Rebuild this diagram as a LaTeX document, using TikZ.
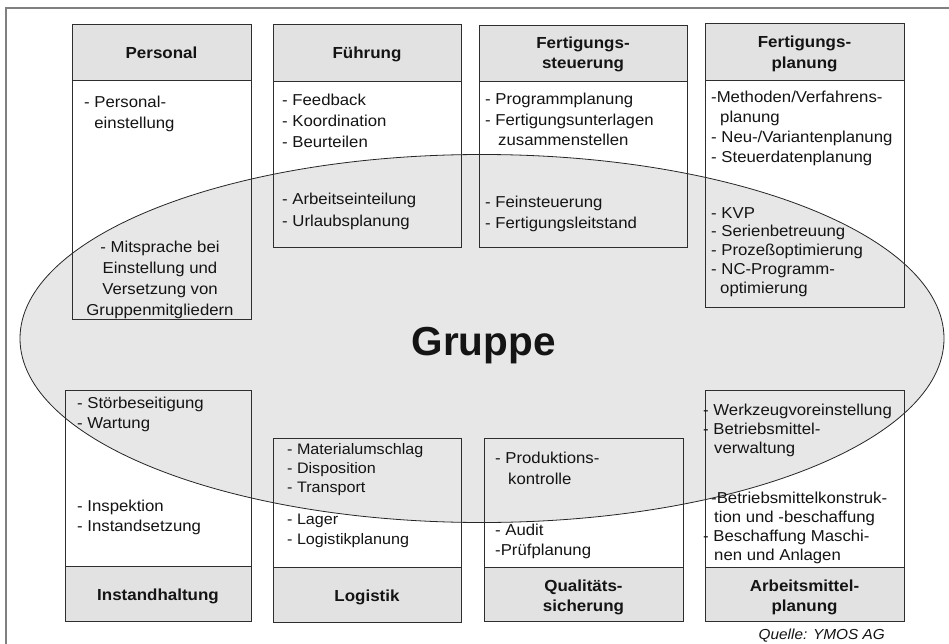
\documentclass[tikz,border=0pt]{standalone}
\usepackage{fontspec}
\setmainfont[FakeStretch=1.06]{Liberation Sans}
\newfontfamily\plainfont{Liberation Sans}
\definecolor{hdrgray}{gray}{0.885}
\definecolor{ellgray}{gray}{0.905}
\definecolor{ink}{gray}{0.08}
\definecolor{frame}{gray}{0.5}
\tikzset{
  boxline/.style={draw=black!82, line width=0.9pt},
  hdrbox/.style={boxline, fill=hdrgray},
  hdrtext/.style={font=\fontsize{16}{20}\selectfont\bfseries, align=center, anchor=base, inner sep=0pt, text=ink},
  bodytext/.style={font=\fontsize{15.8}{21}\selectfont, align=left, anchor=base west, inner sep=0pt, text=ink},
}
\begin{document}
\begin{tikzpicture}[x=1pt,y=-1pt]
\useasboundingbox (0,0) rectangle (949,644);
\fill[white] (0,0) rectangle (949,644);
% outer frame
\draw[frame, line width=1.4pt] (6,644) -- (6,8) -- (949,8);
% ellipse
\draw[fill=ellgray, draw=black!85, line width=0.8pt] (482,338.5) ellipse [x radius=462, y radius=184];
% top row boxes
\draw[hdrbox] (72,24) rectangle (251,80);
\draw[boxline] (72,80) rectangle (251,319);
\draw[hdrbox] (273,24) rectangle (461,81);
\draw[boxline] (273,81) rectangle (461,247);
\draw[hdrbox] (479,25) rectangle (687,81);
\draw[boxline] (479,81) rectangle (687,247);
\draw[hdrbox] (705,23) rectangle (904,80);
\draw[boxline] (705,80) rectangle (904,307);
% bottom row boxes
\draw[boxline] (65,390) rectangle (251,566);
\draw[hdrbox] (65,566) rectangle (251,621);
\draw[boxline] (273,438) rectangle (461,567);
\draw[hdrbox] (273,567) rectangle (461,622);
\draw[boxline] (484,438) rectangle (683,567);
\draw[hdrbox] (484,567) rectangle (683,621);
\draw[boxline] (705,390) rectangle (904,567);
\draw[hdrbox] (705,567) rectangle (904,621);
% headers (anchor base = baseline of last line)
\node[hdrtext] (hpers) at (161.5,59) {Personal};
\node[hdrtext] (hfuehr) at (367,59) {Führung};
\node[hdrtext] (hfst) at (583,69) {Fertigungs-\\steuerung};
\node[hdrtext, font=\fontsize{16}{21}\selectfont\bfseries] (hfpl) at (804.5,69) {Fertigungs-\\planung};
\node[hdrtext] (hinst) at (158,600) {Instandhaltung};
\node[hdrtext] (hlog) at (367,601) {Logistik};
\node[hdrtext] (hqs) at (583.5,611) {Qualitäts-\\sicherung};
\node[hdrtext] (hamp) at (804.5,611) {Arbeitsmittel-\\planung};
% center
\node[font=\plainfont\fontsize{40.5}{44}\selectfont\bfseries, anchor=base, inner sep=0pt, text=ink] (gruppe) at (483.7,355) {Gruppe};
% Personal
\node[bodytext] (persA) at (84,129) {- Personal-\\\phantom{- }einstellung};
\node[bodytext, font=\fontsize{15.8}{20.7}\selectfont, align=center, anchor=base] (persB) at (160,315) {- Mitsprache bei\\Einstellung und\\Versetzung von\\Gruppenmitgliedern};
% Fuehrung
\node[bodytext] (fuehrA) at (282,148) {- Feedback\\- Koordination\\- Beurteilen};
\node[bodytext] (fuehrB) at (282,226) {- Arbeitseinteilung\\- Urlaubsplanung};
% Fertigungssteuerung
\node[bodytext, font=\fontsize{15.8}{20.5}\selectfont] (fstA) at (485,146) {- Programmplanung\\- Fertigungsunterlagen\\\hspace{13pt}zusammenstellen};
\node[bodytext] (fstB) at (485,229) {- Feinsteuerung\\- Fertigungsleitstand};
% Fertigungsplanung
\node[bodytext, font=\fontsize{15.8}{20.3}\selectfont] (fplA) at (711,163) {-Methoden/Verfahrens-\\\hspace{9pt}planung\\- Neu-/Variantenplanung\\- Steuerdatenplanung};
\node[bodytext, font=\fontsize{15.8}{18.75}\selectfont] (fplB) at (711,293) {- KVP\\- Serienbetreuung\\- Prozeßoptimierung\\- NC-Programm-\\\hspace{9pt}optimierung};
% Instandhaltung
\node[bodytext, font=\fontsize{15.8}{20}\selectfont] (instA) at (77,428) {- Störbeseitigung\\- Wartung};
\node[bodytext, font=\fontsize{15.8}{20}\selectfont] (instB) at (77,531) {- Inspektion\\- Instandsetzung};
% Logistik
\node[bodytext, font=\fontsize{15.2}{19}\selectfont] (logA) at (287,492) {- Materialumschlag\\- Disposition\\- Transport};
\node[bodytext, font=\fontsize{15.2}{20}\selectfont] (logB) at (287,544) {- Lager\\- Logistikplanung};
% Qualitaetssicherung
\node[bodytext] (qsA) at (495,484) {- Produktions-\\\hspace{13pt}kontrolle};
\node[bodytext, font=\fontsize{15.8}{20}\selectfont] (qsB) at (495,555) {- Audit\\-Prüfplanung};
% Arbeitsmittelplanung
\node[bodytext, font=\fontsize{15.8}{19}\selectfont] (ampA) at (703,453) {- Werkzeugvoreinstellung\\- Betriebsmittel-\\\hspace{11pt}verwaltung};
\node[bodytext, font=\fontsize{15.8}{19}\selectfont] (ampB) at (703,560) {\hspace{8pt}-Betriebsmittelkonstruk-\\\hspace{11pt}tion und -beschaffung\\- Beschaffung Maschi-\\\hspace{11pt}nen und Anlagen};
% source
\node[font=\fontsize{14.5}{17}\selectfont\itshape, anchor=base east, inner sep=0pt, text=ink] (quelle) at (885,639) {Quelle: YMOS AG};
\end{tikzpicture}
\end{document}
